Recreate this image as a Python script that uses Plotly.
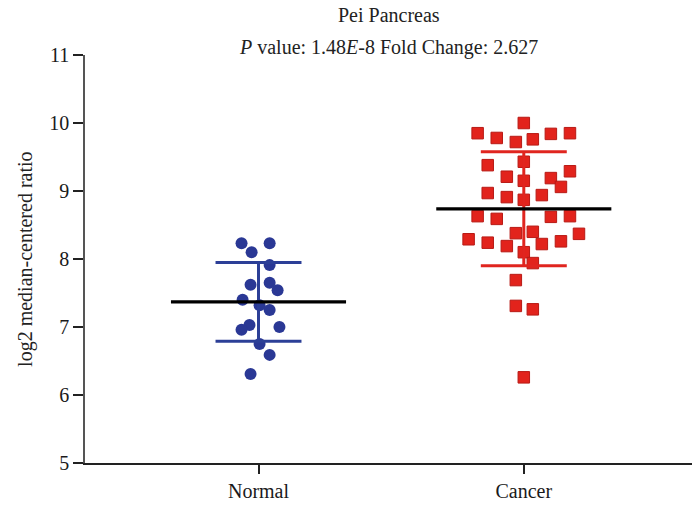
import numpy as np
import plotly.graph_objects as go

categories = ["Normal", "Cancer"]
normal_values = [8.23, 8.10, 8.23, 7.91, 7.62, 7.65, 7.54, 7.40, 7.32, 7.25,
                 7.03, 6.96, 7.00, 6.75, 6.59, 6.31]
normal_jitter = [-0.064, -0.026, 0.042, 0.042, -0.030, 0.042, 0.072, -0.060, 0.004, 0.042,
                 -0.034, -0.064, 0.079, 0.004, 0.042, -0.030]
cancer_values = [10.00, 9.85, 9.78, 9.72, 9.76, 9.84, 9.85,
                 9.38, 9.43, 9.29, 9.21, 9.19, 9.15, 9.06,
                 8.97, 8.91, 8.94, 8.87,
                 8.63, 8.59, 8.62, 8.63,
                 8.38, 8.40, 8.29, 8.24, 8.19, 8.22, 8.26, 8.37,
                 8.10, 7.94, 7.69, 7.31, 7.26, 6.26]
cancer_jitter = [0.0, -0.174, -0.102, -0.030, 0.034, 0.102, 0.174,
                 -0.136, 0.0, 0.174, -0.064, 0.102, 0.0, 0.140,
                 -0.136, -0.064, 0.068, 0.0,
                 -0.174, -0.102, 0.102, 0.174,
                 -0.030, 0.034, -0.208, -0.136, -0.064, 0.068, 0.140, 0.208,
                 0.0, 0.034, -0.030, -0.030, 0.034, 0.0]
y_ticks = [5, 6, 7, 8, 9, 10, 11]
title_line1 = "Pei Pancreas"
title_line2 = "<i>P</i> value: 1.48<i>E</i>-8 Fold Change: 2.627"
y_title = "log2 median-centered ratio"

FONT = "Liberation Serif"
groups = [
    (0, normal_values, normal_jitter, "#2a3895", "circle", "#2c3f97"),
    (1, cancer_values, cancer_jitter, "#e2231c", "square", "#e0251f"),
]

fig = go.Figure()
MEAN_HW = 0.33
CAP_HW = 0.162
for idx, vals, jit, col, sym, barcol in groups:
    fig.add_trace(go.Scatter(
        x=[idx + j for j in jit], y=vals, mode="markers",
        marker=dict(color=col, symbol=sym, size=12 if sym == "circle" else 11.5,
                    line=dict(width=1 if sym == "square" else 0, color="#b81a15")),
        showlegend=False, hoverinfo="y"))
for idx, vals, jit, col, sym, barcol in groups:
    v = np.array(vals)
    m = v.mean()
    sd = v.std(ddof=1)
    xs = [idx, idx, None, idx - CAP_HW, idx + CAP_HW, None, idx - CAP_HW, idx + CAP_HW]
    ys = [m - sd, m + sd, None, m + sd, m + sd, None, m - sd, m - sd]
    fig.add_trace(go.Scatter(x=xs, y=ys, mode="lines",
                             line=dict(color=barcol, width=3),
                             showlegend=False, hoverinfo="skip"))
for idx, vals, jit, col, sym, barcol in groups:
    m = float(np.mean(vals))
    fig.add_trace(go.Scatter(x=[idx - MEAN_HW, idx + MEAN_HW], y=[m, m], mode="lines",
                             line=dict(color="black", width=3.2),
                             showlegend=False, hoverinfo="skip"))

fig.update_layout(
    width=692, height=507,
    margin=dict(l=85, r=0, t=55, b=44),
    plot_bgcolor="white", paper_bgcolor="white",
    font=dict(family=FONT, size=20, color="#1a1a1a"),
    xaxis=dict(range=[-0.654, 1.634], tickvals=[0, 1], ticktext=categories,
               showgrid=False, zeroline=False, showline=True, linecolor="#222",
               linewidth=1.5, ticks="outside", ticklen=9, tickwidth=2, tickcolor="#222",
               fixedrange=True),
    yaxis=dict(range=[5, 11], tickvals=y_ticks, showgrid=False, zeroline=False,
               showline=True, linecolor="#555", linewidth=1.5, ticks="outside",
               ticklen=10, tickwidth=2, tickcolor="#222", fixedrange=True),
    annotations=[
        dict(text=title_line1, xref="paper", yref="paper", x=0.5, y=1.098,
             xanchor="center", yanchor="middle", showarrow=False,
             font=dict(family=FONT, size=20, color="#222")),
        dict(text=title_line2, xref="paper", yref="paper", x=0.5, y=1.018,
             xanchor="center", yanchor="middle", showarrow=False,
             font=dict(family=FONT, size=20, color="#222")),
        dict(text=y_title, xref="paper", yref="paper", x=-0.099, y=0.5,
             xanchor="center", yanchor="middle", textangle=-90, showarrow=False,
             font=dict(family=FONT, size=20, color="#222")),
    ],
)
fig.write_html("out.html")
